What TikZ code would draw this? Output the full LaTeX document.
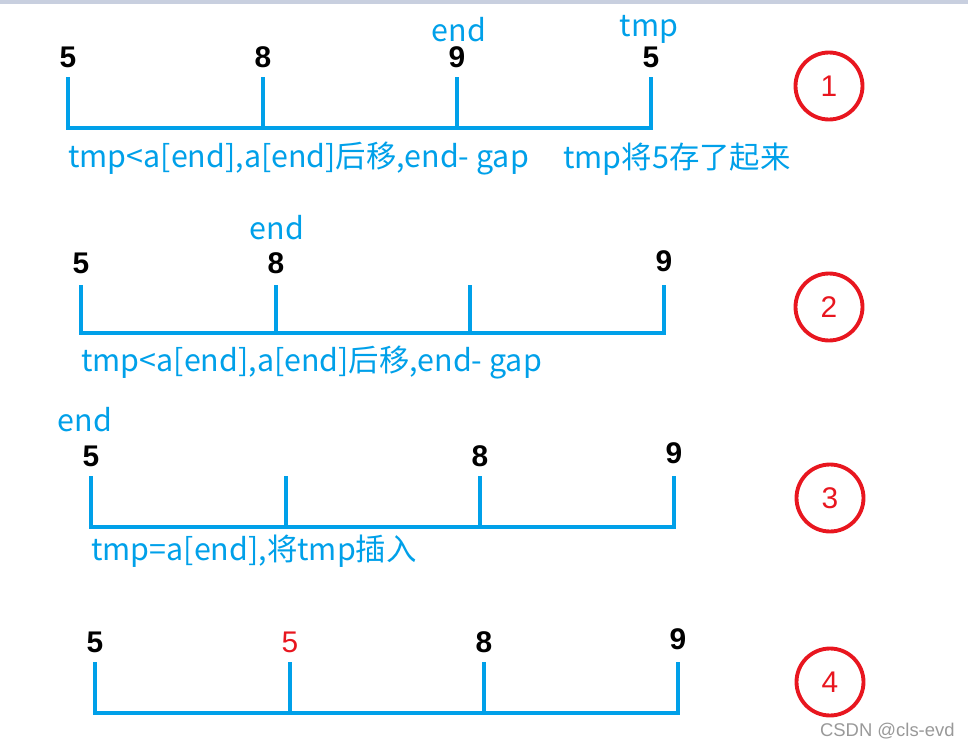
\documentclass[tikz,border=0pt]{standalone}
\usepackage{fontspec}
\setmainfont{Noto Sans CJK SC}
\newfontfamily\numfont{Liberation Sans}
\usetikzlibrary{positioning}
\definecolor{skyblue}{HTML}{00A0E9}
\definecolor{markred}{HTML}{E8161F}
\definecolor{topbar}{HTML}{C8CFDF}

\begin{document}
\begin{tikzpicture}[
    x=0.02cm, y=-0.02cm,
    bar/.style={draw=skyblue, line width=2.2pt},
    num/.style={font=\numfont\bfseries\fontsize{17}{17}\selectfont, inner sep=0pt},
    lbl/.style={font=\fontsize{17.3}{19}\selectfont, text=#1, inner sep=0pt},
    lbl/.default=skyblue,
    tag/.style={circle, draw=markred, line width=2.2pt, minimum size=1.34cm,
        inner sep=0pt, text=markred, font=\numfont\fontsize{17}{17}\selectfont},
    node distance=0.18cm
]
\useasboundingbox (0,0) rectangle (968,747);
\fill[topbar] (0,0) rectangle (968,4);

% tick tops and baseline points of the four rows
\foreach \r/\x/\yt/\yb in {1/68/77/128, 2/81/285/333, 3/91/476/527, 4/95/662/713} {
    \coordinate (t\r a) at (\x,\yt);          \coordinate (b\r a) at (\x,\yb);
    \coordinate (t\r b) at ({\x+195},\yt);    \coordinate (b\r b) at ({\x+195},\yb);
    \coordinate (t\r c) at ({\x+389},\yt);    \coordinate (b\r c) at ({\x+389},\yb);
    \coordinate (t\r d) at ({\x+583},\yt);    \coordinate (b\r d) at ({\x+583},\yb);
    \draw[bar] (t\r a) -- (b\r a) -- (b\r d) -- (t\r d);
    \draw[bar] (t\r b) -- (b\r b);
    \draw[bar] (t\r c) -- (b\r c);
}

% row 1
\node[num, above=of t1a] (n1a) {5};
\node[num, above=of t1b] (n1b) {8};
\node[num, above=of t1c] (n1c) {9};
\node[num, above=of t1d] (n1d) {5};
\node[lbl] (e1) at (459,30) {end};
\node[lbl] (p1) at (649,29) {tmp};
\node[lbl, anchor=west] (s1) at (68,159) {tmp<a[end],a[end]后移,end- gap};
\node[lbl, anchor=west] (s1b) at (563,159) {tmp将5存了起来};
\node[tag] (c1) at (829,86) {1};

% row 2
\node[num, above=0.22cm of t2a] (n2a) {5};
\node[num, above=0.22cm of t2b] (n2b) {8};
\node[num, above=0.26cm of t2d] (n2d) {9};
\node[lbl] (e2) at (277,228) {end};
\node[lbl, anchor=west] (s2) at (81,363) {tmp<a[end],a[end]后移,end- gap};
\node[tag] (c2) at (829,307) {2};

% row 3
\node[num, above=of t3a] (n3a) {5};
\node[num, above=of t3c] (n3c) {8};
\node[num, above=0.24cm of t3d] (n3d) {9};
\node[lbl] (e3) at (85,420) {end};
\node[lbl, anchor=west] (s3) at (91,551) {tmp=a[end],将tmp插入};
\node[tag] (c3) at (830,498) {3};

% row 4
\node[num, above=of t4a] (n4a) {5};
\node[lbl=markred, above=of t4b, font=\numfont\fontsize{17}{17}\selectfont] (n4b) {5};
\node[num, above=of t4c] (n4c) {8};
\node[num, above=0.24cm of t4d] (n4d) {9};
\node[tag] (c4) at (830,682) {4};

\node[anchor=east, inner sep=0pt, text=gray!80, font=\numfont\fontsize{10.5}{12}\selectfont] (wm) at (955,731) {CSDN @cls-evd};
\end{tikzpicture}
\end{document}
